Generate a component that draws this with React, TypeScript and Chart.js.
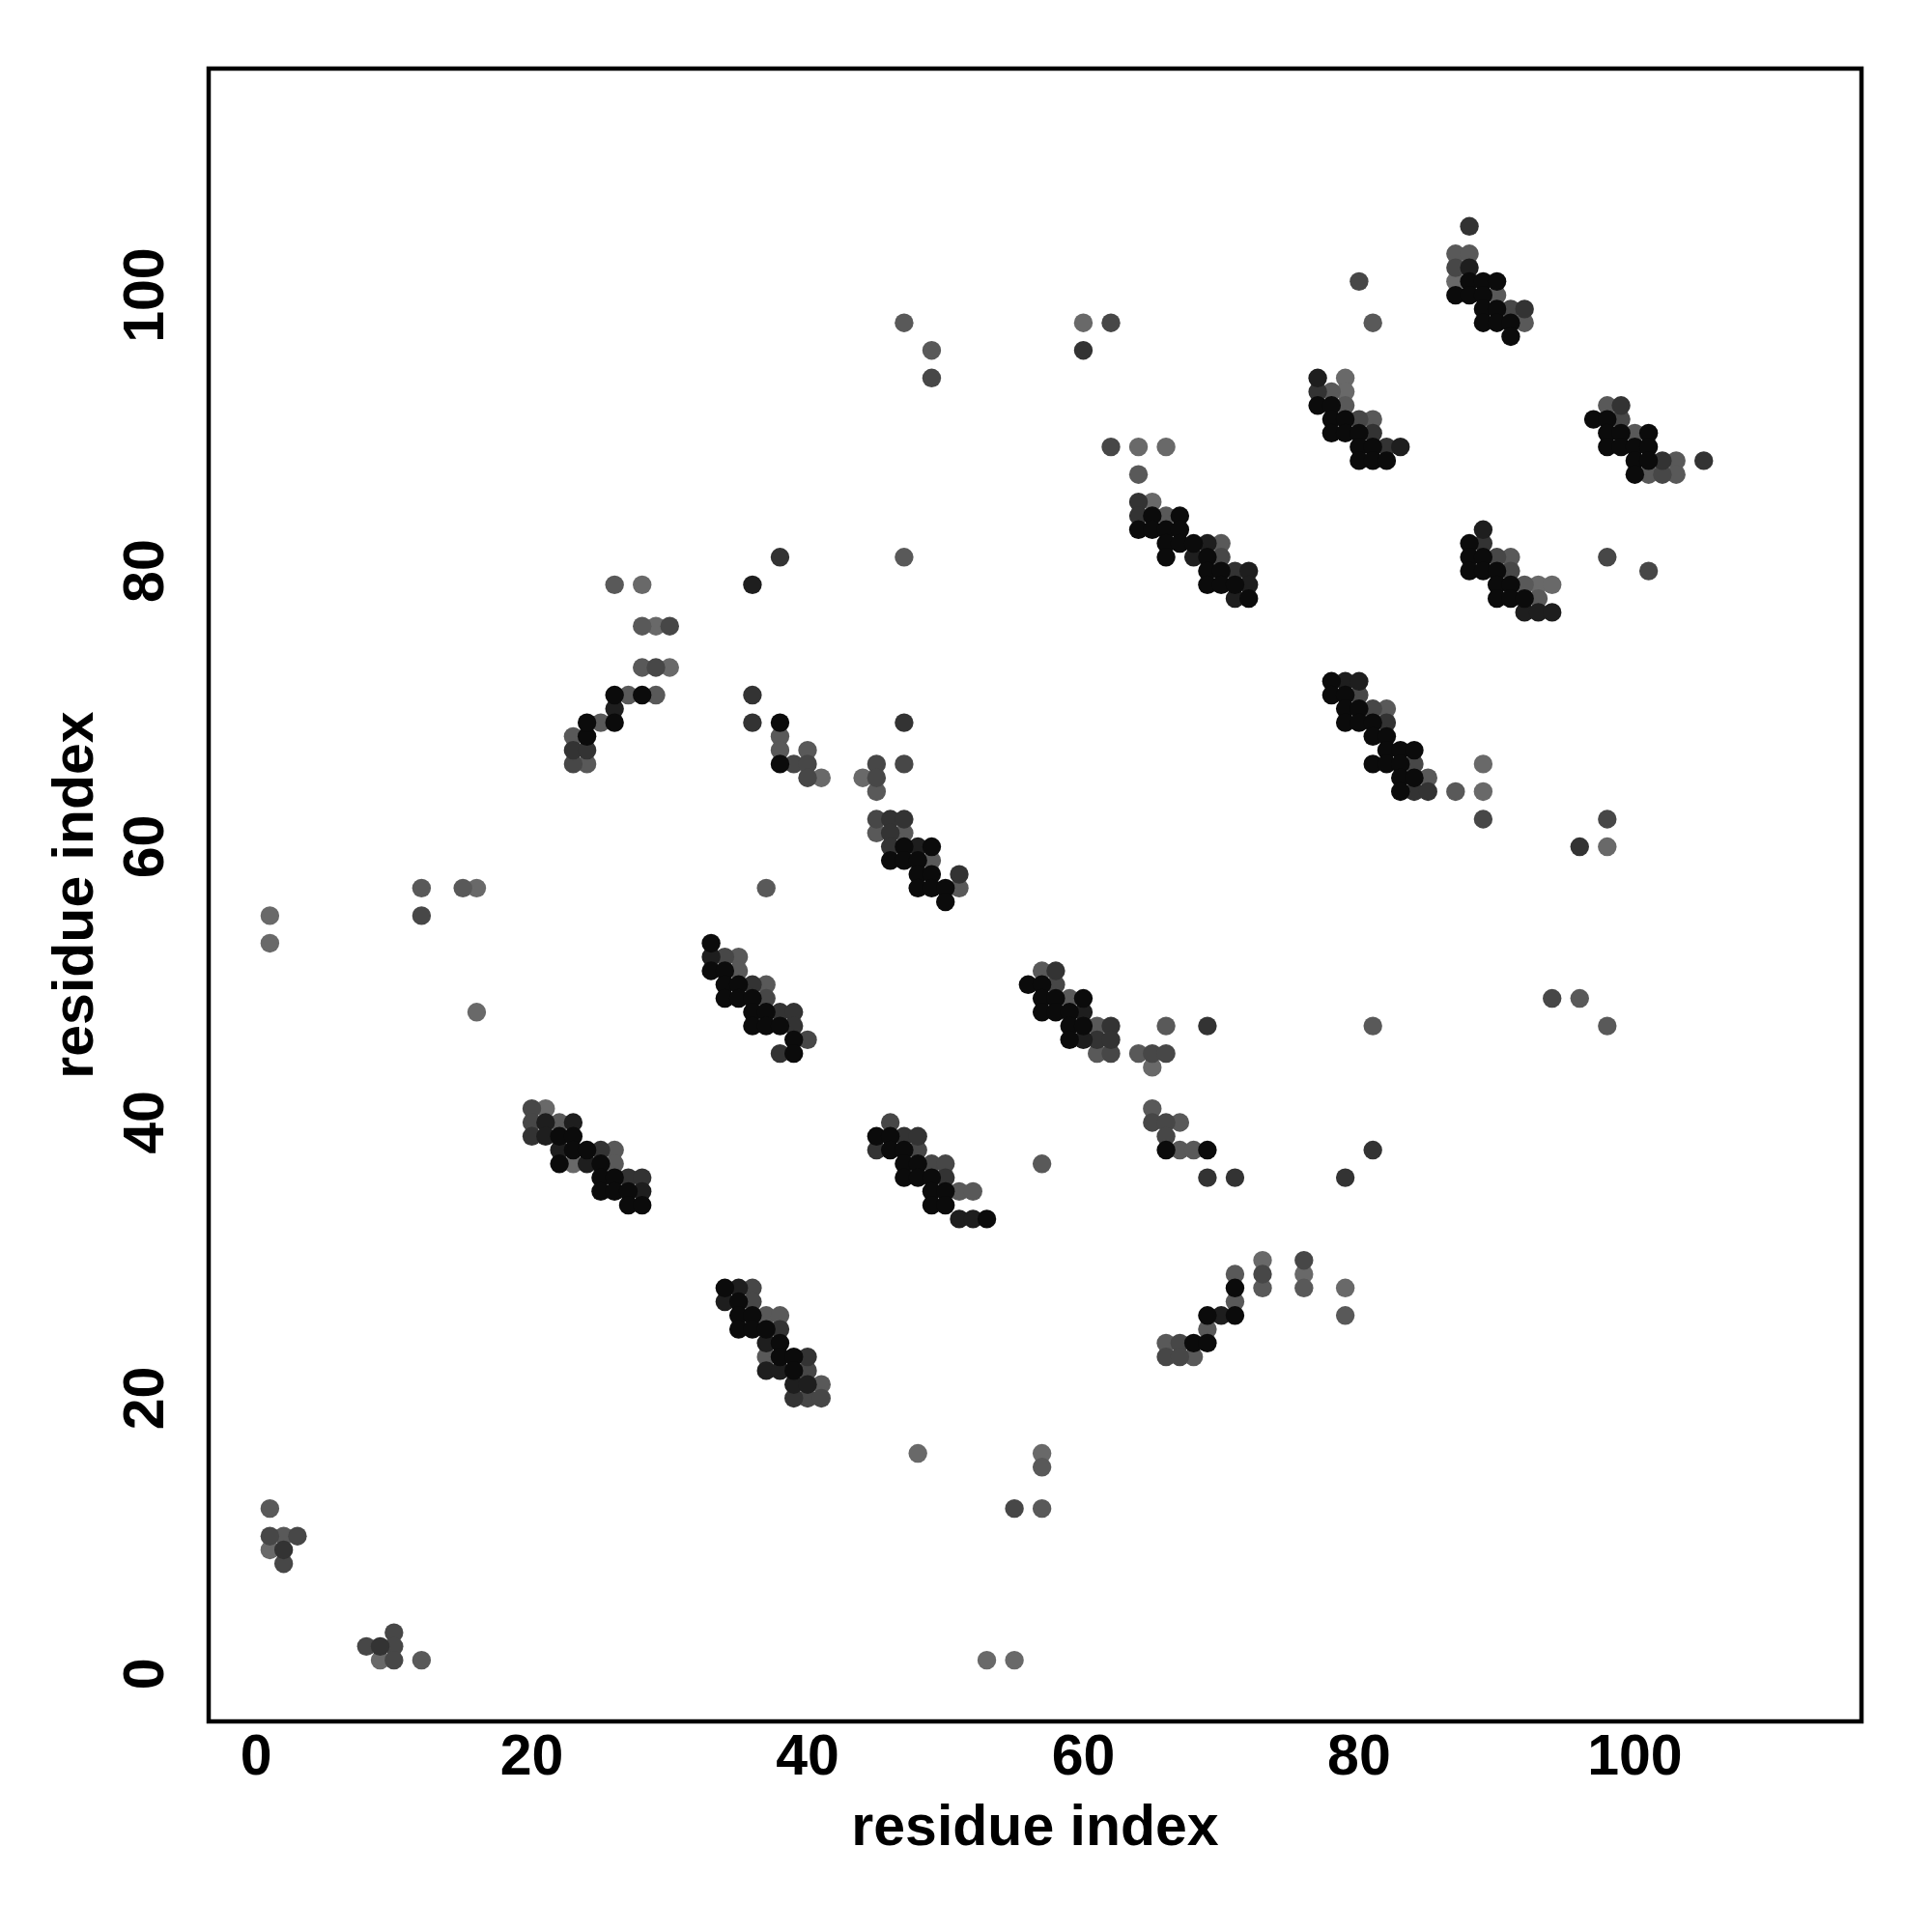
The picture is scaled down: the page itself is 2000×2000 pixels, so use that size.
import React, { useEffect, useRef } from 'react';
import { Chart, registerables } from 'chart.js';

Chart.register(...registerables);

type Pt = [number, number];

// ---- axes ----
const xTicks = [0, 20, 40, 60, 80, 100];
const yTicks = [0, 20, 40, 60, 80, 100];
const xAxisLabel = 'residue index';
const yAxisLabel = 'residue index';
const axisMin = -3.44;
const axisMax = 116.44;

// ---- contact points grouped by grey level (darkest first) ----
const shade0: Pt[] = [
  [22, 39], [23, 39], [23, 38], [24, 38], [22, 37], [25, 37], [25, 36], [26, 36], [25, 35], [26, 35], [27, 35], [27, 34], [28, 34],
  [24, 68], [24, 69], [26, 69], [26, 71], [28, 71],
  [38, 69], [38, 66],
  [47, 60], [49, 60], [46, 59], [47, 59], [48, 59], [48, 58], [49, 58], [48, 57], [49, 57], [50, 57], [50, 56],
  [33, 53], [33, 51], [34, 51], [34, 50], [35, 50], [34, 49], [35, 49], [36, 49], [36, 48], [37, 48], [36, 47], [37, 47], [38, 47], [39, 46], [39, 45],
  [45, 39], [46, 39], [46, 38], [47, 38], [47, 37], [48, 37], [47, 36], [48, 36], [49, 36], [49, 35], [50, 35], [49, 34], [50, 34], [53, 33],
  [34, 28], [35, 27], [35, 26], [36, 26], [35, 25], [36, 25], [37, 25], [38, 24], [38, 23], [39, 23], [39, 22],
  [56, 50], [57, 50], [57, 49], [58, 49], [60, 49], [57, 48], [58, 48], [59, 48], [59, 47], [60, 47], [59, 46],
  [66, 38], [69, 38],
  [71, 28], [69, 26], [71, 26], [68, 24], [69, 24],
  [65, 84], [67, 84], [64, 83], [65, 83], [66, 83], [67, 83], [66, 82], [67, 82], [68, 82], [66, 81], [69, 81], [69, 80], [70, 80], [69, 79], [70, 79], [71, 79], [72, 78],
  [77, 92], [78, 92], [78, 91], [79, 91], [78, 90], [79, 90], [80, 90], [80, 89], [81, 89], [80, 88], [81, 88], [82, 88],
  [88, 101], [89, 101], [90, 101], [87, 100], [88, 100], [89, 100], [89, 99], [90, 99], [89, 98], [90, 98], [91, 98], [91, 97],
  [97, 91], [98, 91], [98, 90], [99, 90], [101, 90], [98, 89], [99, 89], [100, 89], [101, 89], [100, 88], [101, 88], [100, 87],
  [88, 82], [88, 81], [89, 81], [88, 80], [89, 80], [90, 80], [90, 79], [91, 79], [90, 78], [91, 78], [92, 78],
  [78, 72], [78, 71], [79, 71], [79, 70], [80, 70], [79, 69], [80, 69], [81, 69], [81, 68], [82, 68], [82, 67], [83, 67], [84, 67],
  [81, 66], [82, 66], [83, 66], [83, 65], [84, 65], [83, 64],
];

const shade1: Pt[] = [
  [21, 40], [23, 40], [21, 39], [22, 38], [24, 37], [28, 35],
  [26, 70], [36, 79], [48, 60], [33, 52], [51, 33], [52, 33],
  [35, 28], [34, 27], [37, 24], [37, 22], [38, 22], [39, 21], [40, 21],
  [60, 48], [60, 46], [70, 26],
  [69, 82], [68, 81], [72, 80], [72, 79], [71, 78],
  [77, 94], [83, 89], [88, 102],
  [89, 83], [92, 77], [93, 77], [94, 77],
  [79, 72], [80, 72],
];

const shade2: Pt[] = [
  [9, 2], [2, 9],
  [20, 39], [25, 38], [27, 36], [28, 36],
  [23, 67], [24, 67],
  [38, 81], [36, 71], [36, 69], [47, 69],
  [46, 62], [47, 62], [46, 61], [46, 60], [51, 58],
  [36, 50], [38, 48], [39, 48], [39, 47], [38, 45],
  [47, 39], [48, 39], [45, 38], [50, 36],
  [38, 25], [40, 23], [39, 20],
  [58, 51], [62, 47], [61, 46], [62, 46],
  [69, 47], [69, 36], [71, 36], [79, 36],
  [60, 96], [64, 85], [64, 84], [71, 80],
  [77, 93], [81, 90], [82, 89],
  [88, 105], [92, 99],
  [99, 92], [102, 88], [105, 88],
  [89, 82], [82, 69], [84, 64], [85, 64], [96, 60], [81, 38],
];

const shade3: Pt[] = [
  [1, 10], [3, 10], [2, 8], [10, 3], [8, 2], [10, 2], [10, 1],
  [12, 55], [20, 41], [20, 40], [23, 66], [29, 73], [30, 76], [49, 94],
  [39, 66], [40, 66], [40, 65],
  [45, 66], [47, 66], [45, 65], [45, 62],
  [34, 52], [37, 49], [40, 46],
  [46, 40], [48, 38], [49, 37], [50, 37],
  [36, 28], [36, 27], [40, 22], [40, 20], [41, 20],
  [58, 50], [62, 45],
  [65, 45], [66, 45], [65, 40], [66, 40], [66, 39],
  [67, 24], [66, 23], [67, 23], [73, 29], [76, 30],
  [55, 12], [62, 98], [62, 89], [70, 81], [80, 91], [80, 101],
  [87, 102], [91, 99], [99, 91], [102, 87],
  [90, 81], [91, 80], [98, 81], [101, 80],
  [80, 71], [81, 70], [84, 66], [89, 62], [98, 62], [94, 49],
];

const shade4: Pt[] = [
  [1, 12], [2, 10], [12, 1],
  [12, 57], [15, 57],
  [22, 40], [26, 38], [26, 37],
  [23, 68], [24, 66], [25, 69], [27, 71], [29, 71], [28, 73], [28, 76], [26, 79],
  [47, 81], [47, 98], [49, 96],
  [38, 68], [38, 67], [40, 67],
  [45, 64], [45, 61], [47, 61], [49, 59], [51, 57],
  [37, 57], [35, 52], [35, 51], [37, 50],
  [51, 35], [52, 35],
  [37, 26], [38, 26], [37, 23], [41, 21],
  [57, 51], [59, 49], [61, 47], [61, 45],
  [66, 47], [64, 45], [65, 41], [67, 40], [67, 38], [68, 38], [57, 37],
  [71, 29], [71, 27], [69, 25], [66, 24], [68, 23], [73, 28], [76, 28], [79, 26],
  [57, 15], [57, 12],
  [64, 87], [66, 84], [70, 82],
  [78, 93], [79, 92], [81, 91], [81, 98],
  [87, 103], [88, 103], [90, 100], [92, 98],
  [98, 92], [100, 90], [103, 88], [101, 87], [103, 87],
  [91, 81], [92, 79], [93, 78],
  [82, 70], [85, 65], [87, 64],
  [96, 49], [81, 47], [98, 47],
];

const shade5: Pt[] = [
  [1, 9], [9, 1],
  [1, 55], [1, 53], [16, 57], [16, 48],
  [21, 41], [23, 37],
  [30, 73], [29, 76], [28, 79],
  [41, 65], [44, 65], [65, 44],
  [73, 30], [76, 29], [79, 28],
  [57, 16], [53, 1], [55, 1], [48, 16],
  [60, 98], [64, 89], [66, 89], [65, 85],
  [79, 94], [79, 93], [87, 101],
  [93, 79], [94, 79],
  [89, 66], [89, 64], [98, 60],
];

const shadeGroups: { color: string; points: Pt[] }[] = [
  { color: '#0b0b0b', points: shade0 },
  { color: '#1e1e1e', points: shade1 },
  { color: '#333333', points: shade2 },
  { color: '#474747', points: shade3 },
  { color: '#595959', points: shade4 },
  { color: '#696969', points: shade5 },
];

const FONT = "'Liberation Sans', Arial, Helvetica, sans-serif";

const framePlugin = {
  id: 'frame',
  afterDatasetsDraw(chart: any) {
    const { ctx, chartArea: a } = chart;
    ctx.save();
    ctx.strokeStyle = '#000000';
    ctx.lineWidth = 4.5;
    ctx.strokeRect(a.left, a.top, a.right - a.left, a.bottom - a.top);
    ctx.restore();
  },
};

export default function App() {
  const ref = useRef<HTMLCanvasElement | null>(null);

  useEffect(() => {
    document.body.style.margin = '0';
    document.body.style.overflow = 'hidden';
    const canvas = ref.current;
    if (!canvas) return;

    const tickFont = { family: FONT, size: 59, weight: 'bold' as const, lineHeight: 1 };

    const chart = new Chart(canvas, {
      type: 'scatter',
      data: {
        datasets: shadeGroups.map((g, i) => ({
          label: 'level ' + i,
          data: g.points.map(([x, y]) => ({ x, y })),
          backgroundColor: g.color,
          borderWidth: 0,
          pointRadius: 9.7,
          pointHoverRadius: 9.7,
        })),
      },
      options: {
        responsive: false,
        animation: false,
        events: [],
        layout: { padding: { top: 71, right: 73, left: 0, bottom: 0 } },
        plugins: {
          legend: { display: false },
          tooltip: { enabled: false },
        },
        scales: {
          x: {
            type: 'linear',
            min: axisMin,
            max: axisMax,
            afterBuildTicks: (s: any) => {
              s.ticks = xTicks.map((v) => ({ value: v }));
            },
            afterFit: (s: any) => {
              s.height = 218;
            },
            grid: { display: false, drawTicks: false },
            border: { display: false },
            ticks: { font: tickFont, color: '#000000', padding: 9, maxRotation: 0, autoSkip: false },
            title: {
              display: true,
              text: xAxisLabel,
              color: '#000000',
              font: tickFont,
              padding: { top: 0, bottom: 77 },
            },
          },
          y: {
            type: 'linear',
            min: axisMin,
            max: axisMax,
            afterBuildTicks: (s: any) => {
              s.ticks = yTicks.map((v) => ({ value: v }));
            },
            afterFit: (s: any) => {
              s.width = 216;
            },
            grid: { display: false, drawTicks: false },
            border: { display: false },
            ticks: {
              font: tickFont,
              color: '#000000',
              padding: 14,
              minRotation: 90,
              maxRotation: 90,
              crossAlign: 'center',
              autoSkip: false,
            },
            title: {
              display: true,
              text: yAxisLabel,
              color: '#000000',
              font: tickFont,
              padding: { top: 50.5, bottom: 0 },
            },
          },
        },
      },
      plugins: [framePlugin],
    });

    return () => {
      chart.destroy();
    };
  }, []);

  return (
    <div style={{ width: 2000, height: 2000, background: '#ffffff' }}>
      <canvas ref={ref} width={2000} height={2000} style={{ display: 'block', width: 2000, height: 2000 }} />
    </div>
  );
}
